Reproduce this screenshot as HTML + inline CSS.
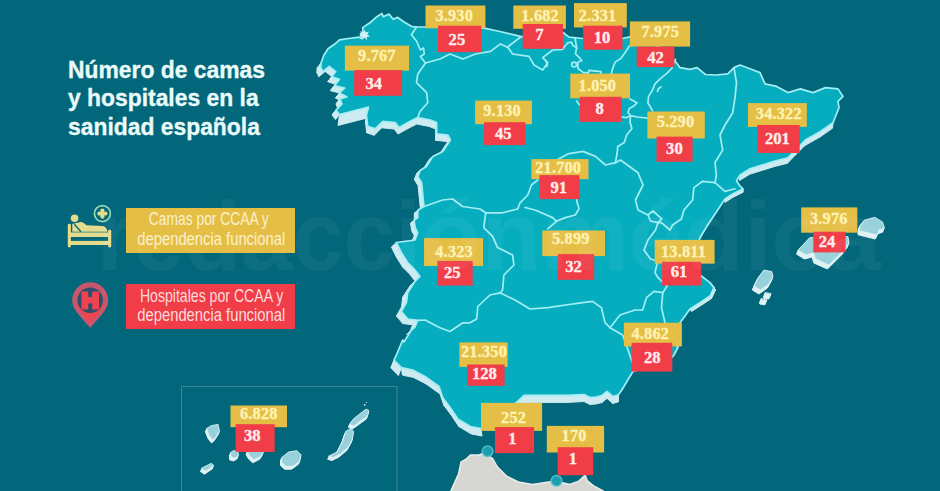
<!DOCTYPE html><html><head><meta charset="utf-8"><style>

html,body{margin:0;padding:0}
body{width:940px;height:491px;overflow:hidden;position:relative;background:#02677b;font-family:"Liberation Sans",sans-serif}
.y,.r{position:absolute;box-sizing:border-box;font-family:"Liberation Serif",serif;font-weight:bold;text-align:center;white-space:nowrap}
.y{background:#e5be46;color:#fdf4b5}
.r{background:#f03d48;color:#fff0f0}
.y span,.r span{position:absolute;left:0;right:0;display:block}
#title{position:absolute;left:67.9px;top:56.1px;transform:scaleX(0.922);color:#eafbfa;-webkit-text-stroke:0.35px #eafbfa;font-weight:bold;font-size:24.8px;line-height:28.3px;white-space:nowrap;transform-origin:0 0}
.leg{position:absolute;left:126px;width:168.5px;color:#fbf1cf;font-size:17.5px;line-height:19.3px;text-align:center;white-space:nowrap}
.leg div{transform-origin:50% 50%}

</style></head><body>
<svg width="940" height="491" viewBox="0 0 940 491" style="position:absolute;left:0;top:0">
<rect width="940" height="491" fill="#02677b"/>
<polygon points="450.4,492 458.6,473.9 461,462.2 466.8,458.6 470.4,455.1 478.5,455.1 484.4,452.8 492.6,458.6 497.3,466.8 506.7,476.2 518.4,482 532.4,484.4 548.8,482 557,481.5 569.9,484.4 579.3,480.9 585.1,475 587.4,480.9 593.3,485.6 605,492" fill="#d6d6d3" stroke="#ececea" stroke-width="1.5" stroke-linejoin="round"/>
<g fill="#cdebf1" stroke="#cdebf1" stroke-width="1" stroke-linejoin="round">
<polygon points="833.0,122.7 820.5,131.5 820.0,137.0 832.5,128.2"/>
<polygon points="820.5,131.5 805.4,140.0 804.9,145.5 820.0,137.0"/>
<polygon points="805.4,140.0 795.4,150.0 794.9,155.5 804.9,145.5"/>
<polygon points="795.4,150.0 787.9,157.8 787.4,163.3 794.9,155.5"/>
<polygon points="787.9,157.8 775.0,161.0 774.5,166.5 787.4,163.3"/>
<polygon points="775.0,161.0 750.0,168.8 749.5,174.3 774.5,166.5"/>
<polygon points="750.0,168.8 740.0,175.0 739.5,180.5 749.5,174.3"/>
<polygon points="736.5,181.0 740.0,186.0 740.0,189.5 736.5,184.5"/>
<polygon points="740.0,186.0 743.0,188.8 743.0,192.3 740.0,189.5"/>
<polygon points="743.0,188.8 732.7,193.9 732.7,197.4 743.0,192.3"/>
<polygon points="732.7,193.9 725.0,198.9 725.0,202.4 732.7,197.4"/>
<polygon points="700.0,275.0 710.0,282.6 711.5,285.1 701.5,277.5"/>
<polygon points="710.0,282.6 714.0,287.6 715.5,290.1 711.5,285.1"/>
<polygon points="714.0,287.6 710.0,296.0 711.5,298.5 715.5,290.1"/>
<polygon points="710.0,296.0 700.0,302.6 701.5,305.1 711.5,298.5"/>
<polygon points="700.0,302.6 690.0,309.0 691.5,311.5 701.5,305.1"/>
<polygon points="618.5,394.8 612.8,396.5 612.8,403.5 618.5,401.8"/>
<polygon points="612.8,396.5 607.0,391.3 607.0,398.3 612.8,403.5"/>
<polygon points="607.0,391.3 602.0,395.5 602.0,402.5 607.0,398.3"/>
<polygon points="602.0,395.5 595.8,397.0 595.8,404.0 602.0,402.5"/>
<polygon points="595.8,397.0 590.0,397.4 590.0,404.4 595.8,404.0"/>
<polygon points="590.0,397.4 584.0,394.5 584.0,401.5 590.0,404.4"/>
<polygon points="584.0,394.5 567.0,395.4 567.0,402.4 584.0,401.5"/>
<polygon points="567.0,395.4 524.0,395.4 524.0,402.4 567.0,402.4"/>
<polygon points="524.0,395.4 517.0,402.0 517.0,409.0 524.0,402.4"/>
<polygon points="481.0,428.5 470.3,426.5 471.3,434.0 482.0,436.0"/>
<polygon points="470.3,426.5 457.8,419.0 458.8,426.5 471.3,434.0"/>
<polygon points="457.8,419.0 450.3,407.7 451.3,415.2 458.8,426.5"/>
<polygon points="450.3,407.7 442.8,397.7 443.8,405.2 451.3,415.2"/>
<polygon points="442.8,397.7 439.0,386.4 440.0,393.9 443.8,405.2"/>
<polygon points="439.0,386.4 425.0,376.4 426.0,383.9 440.0,393.9"/>
<polygon points="425.0,376.4 412.7,370.0 413.7,377.5 426.0,383.9"/>
<polygon points="412.7,370.0 401.4,367.6 402.4,375.1 413.7,377.5"/>
<polygon points="401.4,367.6 394.0,360.0 391.0,368.0 398.4,375.6"/>
<polygon points="394.0,360.0 396.4,355.0 393.4,363.0 391.0,368.0"/>
<polygon points="396.4,355.0 402.7,340.0 399.7,348.0 393.4,363.0"/>
<polygon points="411.4,330.0 415.0,327.0 410.0,331.5 406.4,334.5"/>
<polygon points="415.0,327.0 417.7,320.3 412.7,324.8 410.0,331.5"/>
<polygon points="417.7,320.3 407.7,319.0 402.7,323.5 412.7,324.8"/>
<polygon points="407.7,319.0 401.4,311.5 396.4,316.0 402.7,323.5"/>
<polygon points="401.4,311.5 406.4,302.7 401.4,307.2 396.4,316.0"/>
<polygon points="406.4,302.7 407.7,292.7 402.7,297.2 401.4,307.2"/>
<polygon points="407.7,292.7 415.0,281.4 410.0,285.9 402.7,297.2"/>
<polygon points="415.0,281.4 420.0,276.4 415.0,280.9 410.0,285.9"/>
<polygon points="420.0,276.4 415.0,270.0 410.0,274.5 415.0,280.9"/>
<polygon points="415.0,270.0 407.7,262.6 402.7,267.1 410.0,274.5"/>
<polygon points="407.7,262.6 401.4,252.6 396.4,257.1 402.7,267.1"/>
<polygon points="401.4,252.6 396.4,242.5 391.4,247.0 396.4,257.1"/>
<polygon points="415.0,240.0 417.8,232.8 414.3,235.8 411.5,243.0"/>
<polygon points="417.8,232.8 415.3,227.8 411.8,230.8 414.3,235.8"/>
<polygon points="415.3,227.8 414.0,220.3 410.5,223.3 411.8,230.8"/>
<polygon points="414.0,220.3 417.8,217.8 414.3,220.8 410.5,223.3"/>
<polygon points="417.8,217.8 417.8,210.3 414.3,213.3 414.3,220.8"/>
<polygon points="417.8,210.3 424.0,206.5 420.5,209.5 414.3,213.3"/>
<polygon points="424.0,206.5 422.8,195.2 419.3,198.2 420.5,209.5"/>
<polygon points="422.8,195.2 421.6,182.7 418.1,185.7 419.3,198.2"/>
<polygon points="421.6,182.7 417.8,176.4 414.3,179.4 418.1,185.7"/>
<polygon points="417.8,176.4 420.3,170.2 416.8,173.2 414.3,179.4"/>
<polygon points="420.3,170.2 426.6,166.4 423.1,169.4 416.8,173.2"/>
<polygon points="426.6,166.4 432.8,156.4 429.3,159.4 423.1,169.4"/>
<polygon points="432.8,156.4 442.9,151.4 439.4,154.4 429.3,159.4"/>
<polygon points="442.9,151.4 450.4,140.0 446.9,143.0 439.4,154.4"/>
<polygon points="450.4,140.0 447.9,135.0 446.9,141.5 449.4,146.5"/>
<polygon points="447.9,135.0 436.6,133.8 435.6,140.3 446.9,141.5"/>
<polygon points="436.6,133.8 436.6,122.5 435.6,129.0 435.6,140.3"/>
<polygon points="436.6,122.5 430.3,120.0 429.3,126.5 435.6,129.0"/>
<polygon points="430.3,120.0 417.8,117.5 416.8,124.0 429.3,126.5"/>
<polygon points="417.8,117.5 410.3,121.3 409.3,127.8 416.8,124.0"/>
<polygon points="410.3,121.3 399.0,127.5 398.0,134.0 409.3,127.8"/>
<polygon points="399.0,127.5 395.2,122.5 394.2,129.0 398.0,134.0"/>
<polygon points="395.2,122.5 382.7,121.3 381.7,127.8 394.2,129.0"/>
<polygon points="382.7,121.3 375.2,128.8 374.2,135.3 381.7,127.8"/>
<polygon points="375.2,128.8 367.7,126.3 366.7,132.8 374.2,135.3"/>
<polygon points="367.7,126.3 366.4,115.0 365.4,121.5 366.7,132.8"/>
<polygon points="368.5,107.0 339.5,114.5 338.0,125.5 367.0,118.0"/>
<polygon points="339.5,114.5 336.0,110.0 332.0,115.0 335.5,119.5"/>
<polygon points="336.0,110.0 342.0,104.0 338.0,109.0 332.0,115.0"/>
<polygon points="342.0,104.0 340.0,99.0 336.0,104.0 338.0,109.0"/>
<polygon points="340.0,99.0 347.0,97.0 343.0,102.0 336.0,104.0"/>
<polygon points="347.0,97.0 339.5,93.0 335.5,98.0 343.0,102.0"/>
<polygon points="339.5,93.0 344.7,88.2 340.7,93.2 335.5,98.0"/>
<polygon points="344.7,88.2 334.4,85.7 330.4,90.7 340.7,93.2"/>
<polygon points="334.4,85.7 339.5,79.3 335.5,84.3 330.4,90.7"/>
<polygon points="339.5,79.3 331.8,76.7 327.8,81.7 335.5,84.3"/>
<polygon points="331.8,76.7 335.7,71.6 331.7,76.6 327.8,81.7"/>
<polygon points="335.7,71.6 329.3,66.4 325.3,71.4 331.7,76.6"/>
<polygon points="329.3,66.4 322.8,71.6 318.8,76.6 325.3,71.4"/>
<polygon points="322.8,71.6 320.9,67.7 316.9,72.7 318.8,76.6"/>
<polygon points="320.9,67.7 321.0,63.0 317.0,68.0 316.9,72.7"/>
</g>
<polygon points="321.0,63.0 324.0,55.0 328.0,48.8 334.4,44.3 339.5,39.8 348.5,38.5 358.8,37.2 361.5,38.5 360.5,33.5 363.5,35.0 362.6,27.6 370.3,22.5 376.8,16.7 381.9,13.5 383.2,16.7 389.0,14.1 393.4,19.3 397.3,17.3 403.7,21.8 411.4,26.3 416.5,27.0 425.5,27.0 455.0,25.5 485.4,28.3 500.0,31.5 522.7,36.8 540.0,35.0 563.0,32.5 569.0,37.2 583.0,38.5 605.0,40.0 622.5,38.5 630.0,36.8 650.0,42.0 665.0,50.0 674.4,60.0 679.9,67.6 690.1,69.3 697.0,67.6 705.5,74.5 716.0,75.0 727.7,73.8 734.0,67.6 740.0,65.0 750.0,68.8 760.0,72.6 765.0,83.9 776.6,86.4 787.9,92.6 800.4,88.9 813.0,92.6 825.5,87.6 838.0,88.9 843.0,96.4 838.0,101.4 839.0,107.7 833.0,122.7 820.5,131.5 805.4,140.0 795.4,150.0 787.9,157.8 775.0,161.0 750.0,168.8 740.0,175.0 736.5,181.0 740.0,186.0 743.0,188.8 732.7,193.9 725.0,198.9 717.7,210.0 707.7,225.0 700.0,237.7 696.0,250.0 695.0,262.0 700.0,275.0 710.0,282.6 714.0,287.6 710.0,296.0 700.0,302.6 690.0,309.0 685.0,316.0 680.0,322.7 678.0,335.0 677.8,347.7 674.0,355.0 671.5,358.0 655.0,363.0 640.0,367.0 632.7,372.0 628.4,379.0 622.6,388.7 618.5,394.8 612.8,396.5 607.0,391.3 602.0,395.5 595.8,397.0 590.0,397.4 584.0,394.5 567.0,395.4 524.0,395.4 517.0,402.0 510.0,408.0 500.0,416.0 488.0,424.0 481.0,428.5 470.3,426.5 457.8,419.0 450.3,407.7 442.8,397.7 439.0,386.4 425.0,376.4 412.7,370.0 401.4,367.6 394.0,360.0 396.4,355.0 402.7,340.0 404.0,342.0 411.4,330.0 415.0,327.0 417.7,320.3 407.7,319.0 401.4,311.5 406.4,302.7 407.7,292.7 415.0,281.4 420.0,276.4 415.0,270.0 407.7,262.6 401.4,252.6 396.4,242.5 415.0,240.0 417.8,232.8 415.3,227.8 414.0,220.3 417.8,217.8 417.8,210.3 424.0,206.5 422.8,195.2 421.6,182.7 417.8,176.4 420.3,170.2 426.6,166.4 432.8,156.4 442.9,151.4 450.4,140.0 447.9,135.0 436.6,133.8 436.6,122.5 430.3,120.0 417.8,117.5 410.3,121.3 399.0,127.5 395.2,122.5 382.7,121.3 375.2,128.8 367.7,126.3 366.4,115.0 368.5,107.0 339.5,114.5 336.0,110.0 342.0,104.0 340.0,99.0 347.0,97.0 339.5,93.0 344.7,88.2 334.4,85.7 339.5,79.3 331.8,76.7 335.7,71.6 329.3,66.4 322.8,71.6 320.9,67.7" fill="#06adbe" stroke="#a3eef5" stroke-width="1.7" stroke-linejoin="round"/>
<g fill="none" stroke="#a3eef5" stroke-width="1.7" stroke-linejoin="round" stroke-linecap="round">
<polyline points="416.5,27.0 411.4,34.7 416.5,41.0 420.4,50.0 423.6,48.0 424.2,54.0 420.4,56.5 425.5,63.0"/>
<polyline points="425.5,63.0 417.8,74.0 416.5,82.7 426.6,92.7 427.8,102.8 420.0,111.5 417.8,117.5"/>
<polyline points="425.5,63.0 440.0,59.0 450.0,54.0 463.0,59.0 475.4,54.0 490.5,51.4 500.5,43.9 508.0,47.6"/>
<polyline points="507.3,47.1 521.0,36.8"/>
<polyline points="508.0,47.6 512.6,54.0 529.0,56.4 534.0,65.0 542.7,70.0 547.7,62.7 542.7,57.6 552.7,50.0 562.6,49.3 567.7,42.8 571.6,42.2 572.8,45.4 576.7,48.0"/>
<polyline points="575.0,38.0 576.7,48.0 575.4,53.7 579.3,57.6 581.8,60.8 578.0,62.0 578.0,68.5 583.1,72.4 588.2,73.0 588.9,70.4 601.1,71.7 601.1,75.0"/>
<polyline points="629.3,46.0 624.8,53.1 621.0,58.2 615.2,62.1 612.6,68.5 611.3,74.0"/>
<polyline points="675.5,59.5 671.7,68.5 666.5,73.6 660.1,78.8 655.0,83.9 652.4,90.3 648.6,96.4 647.9,102.8 652.4,110.5"/>
<polyline points="630.0,99.0 637.0,102.8 633.8,106.0 629.3,108.6 628.0,112.5 630.6,115.7 637.0,117.0 647.3,118.2"/>
<polyline points="621.6,117.0 626.7,117.6 630.6,115.7 630.0,122.0 631.9,128.5 626.7,135.0 624.2,142.6 617.8,146.5 617.1,153.0 615.5,162.7"/>
<polyline points="576.7,101.0 579.3,104.8"/>
<polyline points="657.5,91.5 658.5,88.5 661.0,87.0"/>
<polyline points="546.0,61.5 547.5,64.5 546.5,66.5"/>
<polyline points="615.5,162.7 605.5,165.0 595.4,156.4 583.0,151.4 567.9,153.9 555.0,161.0"/>
<polyline points="537.8,180.0 531.5,185.0 527.8,195.0 520.0,202.8 517.7,209.0 502.7,212.8 485.7,212.8"/>
<polyline points="485.7,212.8 480.0,209.0 462.6,206.5 452.6,199.0 442.6,200.0 424.0,206.5"/>
<polyline points="485.7,212.8 483.8,227.6 492.6,236.4 497.6,247.6 512.6,255.0 513.9,265.0 503.9,275.0 502.6,290.0 500.0,292.8"/>
<polyline points="500.0,292.8 490.0,295.0 477.8,306.5 476.6,319.0 470.0,322.8 462.8,322.8 450.0,331.5 440.0,327.8 425.0,320.0 417.7,320.3"/>
<polyline points="500.0,292.8 515.0,300.0 530.0,309.0 548.0,307.7 565.6,305.0 582.6,302.6 592.6,301.4 601.4,307.6 605.0,322.7 610.0,327.7"/>
<polyline points="610.0,327.7 622.7,335.0 629.0,352.8 631.4,360.0 636.0,371.0"/>
<polyline points="610.0,327.7 620.0,315.0 635.0,310.0 642.7,310.0 646.5,297.6 654.0,291.4 662.8,292.6"/>
<polyline points="662.8,292.6 661.5,307.6 665.0,322.7 672.0,335.0 677.8,347.7"/>
<polyline points="662.8,292.6 667.8,285.0 665.5,285.0 658.0,277.7 655.0,272.6 657.7,261.0 650.5,259.0 644.0,250.0 648.0,240.0 655.5,230.0 658.0,222.6"/>
<polyline points="648.0,215.0 653.0,211.0 661.8,218.8 658.0,222.6 650.5,221.0 648.0,215.0"/>
<polyline points="615.5,162.7 620.5,160.0 638.0,172.7 643.0,185.0 635.5,200.0 638.0,210.0 648.0,215.0"/>
<polyline points="658.0,222.6 661.3,222.7 670.0,230.0 672.6,225.0 681.4,219.0 683.9,210.0 692.6,200.0 693.9,187.6 702.6,181.3 715.0,182.6"/>
<polyline points="715.0,182.6 725.0,191.4 735.0,188.8"/>
<polyline points="734.0,67.6 736.5,82.6 735.0,97.6 732.7,112.7 725.0,125.0 720.0,135.0 722.7,150.0 715.0,162.5 716.4,175.0 715.0,182.6"/>
<polyline points="525.0,207.5 535.0,210.0 552.7,217.6 556.5,221.3 565.3,217.6 575.3,215.0 579.0,208.8 576.5,200.0 578.0,185.0"/>
<polyline points="556.5,221.3 547.7,228.8"/>
<circle cx="574.1" cy="64.6" r="2.4"/>
</g>
<polygon points="364.5,29.5 365.8,32.5 369,31.5 367.3,34.3 370,36.5 366.8,36.8 367,40 364.6,37.6 362,39.8 362.2,36.6 359,36 361.8,34 360.2,31 363.3,32.2" fill="#d6f1f5"/>
<g fill="#e0f2f6" stroke="#e0f2f6" stroke-width="1" stroke-linejoin="round"><polygon points="801.0,247.0 809.8,237.5 848.0,236.5 849.0,243.0 844.0,250.0 829.0,265.0 815.5,259.0 813.6,253.0 806.0,255.0 798.0,250.0" transform="translate(-0.4,1)"/><polygon points="801.0,247.0 809.8,237.5 848.0,236.5 849.0,243.0 844.0,250.0 829.0,265.0 815.5,259.0 813.6,253.0 806.0,255.0 798.0,250.0" transform="translate(-0.8,2)"/><polygon points="801.0,247.0 809.8,237.5 848.0,236.5 849.0,243.0 844.0,250.0 829.0,265.0 815.5,259.0 813.6,253.0 806.0,255.0 798.0,250.0" transform="translate(-1.2,3)"/><polygon points="801.0,247.0 809.8,237.5 848.0,236.5 849.0,243.0 844.0,250.0 829.0,265.0 815.5,259.0 813.6,253.0 806.0,255.0 798.0,250.0" transform="translate(-1.6,4)"/></g><polygon points="801.0,247.0 809.8,237.5 848.0,236.5 849.0,243.0 844.0,250.0 829.0,265.0 815.5,259.0 813.6,253.0 806.0,255.0 798.0,250.0" fill="#97d1db" stroke="#e0f2f6" stroke-width="0.8" stroke-linejoin="round"/><g fill="#e0f2f6" stroke="#e0f2f6" stroke-width="1" stroke-linejoin="round"><polygon points="859.6,226.0 864.4,220.0 875.0,217.3 882.6,222.0 884.5,228.0 878.8,230.0 876.9,235.0 867.0,232.6 859.6,230.7" transform="translate(-0.4,1)"/><polygon points="859.6,226.0 864.4,220.0 875.0,217.3 882.6,222.0 884.5,228.0 878.8,230.0 876.9,235.0 867.0,232.6 859.6,230.7" transform="translate(-0.8,2)"/><polygon points="859.6,226.0 864.4,220.0 875.0,217.3 882.6,222.0 884.5,228.0 878.8,230.0 876.9,235.0 867.0,232.6 859.6,230.7" transform="translate(-1.2,3)"/><polygon points="859.6,226.0 864.4,220.0 875.0,217.3 882.6,222.0 884.5,228.0 878.8,230.0 876.9,235.0 867.0,232.6 859.6,230.7" transform="translate(-1.6,4)"/></g><polygon points="859.6,226.0 864.4,220.0 875.0,217.3 882.6,222.0 884.5,228.0 878.8,230.0 876.9,235.0 867.0,232.6 859.6,230.7" fill="#97d1db" stroke="#e0f2f6" stroke-width="0.8" stroke-linejoin="round"/><g fill="#e0f2f6" stroke="#e0f2f6" stroke-width="1" stroke-linejoin="round"><polygon points="754.0,286.0 758.0,277.8 764.0,270.0 771.8,271.6 773.0,276.6 769.0,284.0 760.5,290.0" transform="translate(-0.4,1)"/><polygon points="754.0,286.0 758.0,277.8 764.0,270.0 771.8,271.6 773.0,276.6 769.0,284.0 760.5,290.0" transform="translate(-0.8,2)"/><polygon points="754.0,286.0 758.0,277.8 764.0,270.0 771.8,271.6 773.0,276.6 769.0,284.0 760.5,290.0" transform="translate(-1.2,3)"/><polygon points="754.0,286.0 758.0,277.8 764.0,270.0 771.8,271.6 773.0,276.6 769.0,284.0 760.5,290.0" transform="translate(-1.6,4)"/></g><polygon points="754.0,286.0 758.0,277.8 764.0,270.0 771.8,271.6 773.0,276.6 769.0,284.0 760.5,290.0" fill="#97d1db" stroke="#e0f2f6" stroke-width="0.8" stroke-linejoin="round"/><g fill="#e0f2f6" stroke="#e0f2f6" stroke-width="1" stroke-linejoin="round"><polygon points="765.0,292.5 771.0,293.5 770.5,295.0 765.5,294.3" transform="translate(-0.4,1)"/><polygon points="765.0,292.5 771.0,293.5 770.5,295.0 765.5,294.3" transform="translate(-0.8,2)"/><polygon points="765.0,292.5 771.0,293.5 770.5,295.0 765.5,294.3" transform="translate(-1.2,3)"/><polygon points="765.0,292.5 771.0,293.5 770.5,295.0 765.5,294.3" transform="translate(-1.6,4)"/></g><polygon points="765.0,292.5 771.0,293.5 770.5,295.0 765.5,294.3" fill="#97d1db" stroke="#e0f2f6" stroke-width="0.8" stroke-linejoin="round"/><g fill="#e0f2f6" stroke="#e0f2f6" stroke-width="1" stroke-linejoin="round"><polygon points="761.0,298.5 767.0,299.3 766.5,300.8 761.5,300.0" transform="translate(-0.4,1)"/><polygon points="761.0,298.5 767.0,299.3 766.5,300.8 761.5,300.0" transform="translate(-0.8,2)"/><polygon points="761.0,298.5 767.0,299.3 766.5,300.8 761.5,300.0" transform="translate(-1.2,3)"/><polygon points="761.0,298.5 767.0,299.3 766.5,300.8 761.5,300.0" transform="translate(-1.6,4)"/></g><polygon points="761.0,298.5 767.0,299.3 766.5,300.8 761.5,300.0" fill="#97d1db" stroke="#e0f2f6" stroke-width="0.8" stroke-linejoin="round"/><g fill="#e0f2f6" stroke="#e0f2f6" stroke-width="1" stroke-linejoin="round"><polygon points="206.5,428.5 211.2,425.7 218.1,424.3 219.5,431.2 215.3,437.7 212.6,439.9 209.2,435.4" transform="translate(-0.4,1)"/><polygon points="206.5,428.5 211.2,425.7 218.1,424.3 219.5,431.2 215.3,437.7 212.6,439.9 209.2,435.4" transform="translate(-0.8,2)"/><polygon points="206.5,428.5 211.2,425.7 218.1,424.3 219.5,431.2 215.3,437.7 212.6,439.9 209.2,435.4" transform="translate(-1.2,3)"/></g><polygon points="206.5,428.5 211.2,425.7 218.1,424.3 219.5,431.2 215.3,437.7 212.6,439.9 209.2,435.4" fill="#97d1db" stroke="#e0f2f6" stroke-width="0.8" stroke-linejoin="round"/><g fill="#e0f2f6" stroke="#e0f2f6" stroke-width="1" stroke-linejoin="round"><polygon points="230.5,452.5 234.0,450.5 238.0,452.0 238.5,455.5 235.0,458.0 231.0,457.0" transform="translate(-0.4,1)"/><polygon points="230.5,452.5 234.0,450.5 238.0,452.0 238.5,455.5 235.0,458.0 231.0,457.0" transform="translate(-0.8,2)"/><polygon points="230.5,452.5 234.0,450.5 238.0,452.0 238.5,455.5 235.0,458.0 231.0,457.0" transform="translate(-1.2,3)"/></g><polygon points="230.5,452.5 234.0,450.5 238.0,452.0 238.5,455.5 235.0,458.0 231.0,457.0" fill="#97d1db" stroke="#e0f2f6" stroke-width="0.8" stroke-linejoin="round"/><g fill="#e0f2f6" stroke="#e0f2f6" stroke-width="1" stroke-linejoin="round"><polygon points="201.5,468.3 211.2,463.3 213.9,465.5 205.6,471.2" transform="translate(-0.4,1)"/><polygon points="201.5,468.3 211.2,463.3 213.9,465.5 205.6,471.2" transform="translate(-0.8,2)"/><polygon points="201.5,468.3 211.2,463.3 213.9,465.5 205.6,471.2" transform="translate(-1.2,3)"/></g><polygon points="201.5,468.3 211.2,463.3 213.9,465.5 205.6,471.2" fill="#97d1db" stroke="#e0f2f6" stroke-width="0.8" stroke-linejoin="round"/><g fill="#e0f2f6" stroke="#e0f2f6" stroke-width="1" stroke-linejoin="round"><polygon points="247.1,451.4 263.7,451.4 261.0,456.1 254.0,459.8 249.9,456.1" transform="translate(-0.4,1)"/><polygon points="247.1,451.4 263.7,451.4 261.0,456.1 254.0,459.8 249.9,456.1" transform="translate(-0.8,2)"/><polygon points="247.1,451.4 263.7,451.4 261.0,456.1 254.0,459.8 249.9,456.1" transform="translate(-1.2,3)"/></g><polygon points="247.1,451.4 263.7,451.4 261.0,456.1 254.0,459.8 249.9,456.1" fill="#97d1db" stroke="#e0f2f6" stroke-width="0.8" stroke-linejoin="round"/><g fill="#e0f2f6" stroke="#e0f2f6" stroke-width="1" stroke-linejoin="round"><polygon points="281.7,457.5 288.6,452.0 296.9,450.6 301.1,454.8 299.7,461.2 292.8,466.2 285.9,466.2 281.7,462.5" transform="translate(-0.4,1)"/><polygon points="281.7,457.5 288.6,452.0 296.9,450.6 301.1,454.8 299.7,461.2 292.8,466.2 285.9,466.2 281.7,462.5" transform="translate(-0.8,2)"/><polygon points="281.7,457.5 288.6,452.0 296.9,450.6 301.1,454.8 299.7,461.2 292.8,466.2 285.9,466.2 281.7,462.5" transform="translate(-1.2,3)"/></g><polygon points="281.7,457.5 288.6,452.0 296.9,450.6 301.1,454.8 299.7,461.2 292.8,466.2 285.9,466.2 281.7,462.5" fill="#97d1db" stroke="#e0f2f6" stroke-width="0.8" stroke-linejoin="round"/><g fill="#e0f2f6" stroke="#e0f2f6" stroke-width="1" stroke-linejoin="round"><polygon points="328.7,456.1 337.0,452.0 342.6,440.9 345.9,431.2 350.9,428.5 353.6,431.2 352.3,439.5 348.1,447.3 339.8,454.3 332.9,457.6" transform="translate(-0.4,1)"/><polygon points="328.7,456.1 337.0,452.0 342.6,440.9 345.9,431.2 350.9,428.5 353.6,431.2 352.3,439.5 348.1,447.3 339.8,454.3 332.9,457.6" transform="translate(-0.8,2)"/><polygon points="328.7,456.1 337.0,452.0 342.6,440.9 345.9,431.2 350.9,428.5 353.6,431.2 352.3,439.5 348.1,447.3 339.8,454.3 332.9,457.6" transform="translate(-1.2,3)"/></g><polygon points="328.7,456.1 337.0,452.0 342.6,440.9 345.9,431.2 350.9,428.5 353.6,431.2 352.3,439.5 348.1,447.3 339.8,454.3 332.9,457.6" fill="#97d1db" stroke="#e0f2f6" stroke-width="0.8" stroke-linejoin="round"/><g fill="#e0f2f6" stroke="#e0f2f6" stroke-width="1" stroke-linejoin="round"><polygon points="349.5,424.3 353.6,418.8 360.5,413.3 366.1,409.1 368.9,410.5 367.5,416.0 360.5,421.1 353.6,426.0" transform="translate(-0.4,1)"/><polygon points="349.5,424.3 353.6,418.8 360.5,413.3 366.1,409.1 368.9,410.5 367.5,416.0 360.5,421.1 353.6,426.0" transform="translate(-0.8,2)"/><polygon points="349.5,424.3 353.6,418.8 360.5,413.3 366.1,409.1 368.9,410.5 367.5,416.0 360.5,421.1 353.6,426.0" transform="translate(-1.2,3)"/></g><polygon points="349.5,424.3 353.6,418.8 360.5,413.3 366.1,409.1 368.9,410.5 367.5,416.0 360.5,421.1 353.6,426.0" fill="#97d1db" stroke="#e0f2f6" stroke-width="0.8" stroke-linejoin="round"/><circle cx="364.7" cy="404.8" r="0.9" fill="#e0f2f6"/><circle cx="366.5" cy="402.5" r="0.6" fill="#e0f2f6"/>
<circle cx="487.6" cy="451.2" r="5.3" fill="#1b9fb0" stroke="#56bfcc" stroke-width="1.4"/>
<circle cx="556.5" cy="480.8" r="5.3" fill="#1b9fb0" stroke="#56bfcc" stroke-width="1.4"/>
<path d="M181.5 492 V386.5 H397 V492" fill="none" stroke="#3f8797" stroke-width="1"/>

<g fill="#e4dc8c">
<rect x="67.8" y="223.7" width="3.1" height="23.8" rx="1.4"/>
<rect x="108.1" y="229.8" width="3.1" height="17.7" rx="1.4"/>
<rect x="70" y="232.4" width="39" height="4.6"/>
<rect x="70" y="240.9" width="39" height="4.1"/>
<circle cx="74.6" cy="218.2" r="3.8"/>
<path d="M72.3 224 L80.5 221.9 Q83 221.6 86.5 225.3 L102.5 226 Q106.5 226.5 107.6 231.7 L72.3 231.7 Z"/>
</g>
<path d="M74.3 224.2 L81 231.7" stroke="#02677b" stroke-width="1.3" fill="none"/>
<circle cx="102.4" cy="213.6" r="8" fill="none" stroke="#97d8b4" stroke-width="1.7"/>
<g fill="#e2dd8c"><circle cx="102.4" cy="210.6" r="2.1"/><circle cx="102.4" cy="216.6" r="2.1"/><circle cx="99.4" cy="213.6" r="2.1"/><circle cx="105.4" cy="213.6" r="2.1"/><rect x="100.4" y="211.6" width="4" height="4"/></g>
<path d="M90.2 327.8 C82 317.5 72.2 310.5 72.2 300.2 A18 18 0 1 1 108.2 300.2 C108.2 310.5 98.4 317.5 90.2 327.8 Z" fill="#c6576c"/>
<path d="M76.4 303 C78 310.5 84.5 316 90.2 323 C95.9 316 102.4 310.5 104 303 Z" fill="#ee4350"/>
<circle cx="90.2" cy="300.2" r="12.7" fill="#2b4f6d"/>
<path d="M82 292 h5.6 v5.6 h5.2 v-5.6 h5.6 v16.8 h-5.6 v-5.8 h-5.2 v5.8 h-5.6 Z" fill="#ee4350" stroke="#ee4350" stroke-width="1.2" stroke-linejoin="round"/>

<g font-family="Liberation Serif, serif" font-weight="bold" text-anchor="middle">
<rect x="344.9" y="45.6" width="64.1" height="25.0" fill="#e5be46"/>
<text x="376.9" y="60.7" font-size="16.3" letter-spacing="0.2" fill="#fdf3b4" stroke="#fdf3b4" stroke-width="0.35">9.767</text>
<rect x="425.5" y="5.5" width="59.9" height="22.8" fill="#e5be46"/>
<text x="454.2" y="21.4" font-size="16.3" letter-spacing="0.2" fill="#fdf3b4" stroke="#fdf3b4" stroke-width="0.35">3.930</text>
<rect x="513.3" y="5.5" width="52.6" height="23.3" fill="#e5be46"/>
<text x="540.1" y="20.5" font-size="16.3" letter-spacing="0.2" fill="#fdf3b4" stroke="#fdf3b4" stroke-width="0.35">1.682</text>
<rect x="574.0" y="3.1" width="52.8" height="24.3" fill="#e5be46"/>
<text x="597.6" y="20.5" font-size="16.3" letter-spacing="0.2" fill="#fdf3b4" stroke="#fdf3b4" stroke-width="0.35">2.331</text>
<rect x="629.9" y="21.4" width="60.2" height="25.2" fill="#e5be46"/>
<text x="660.3" y="36.8" font-size="16.3" letter-spacing="0.2" fill="#fdf3b4" stroke="#fdf3b4" stroke-width="0.35">7.975</text>
<rect x="570.3" y="73.6" width="59.7" height="24.7" fill="#e5be46"/>
<text x="597.4" y="90.5" font-size="16.3" letter-spacing="0.2" fill="#fdf3b4" stroke="#fdf3b4" stroke-width="0.35">1.050</text>
<rect x="475.1" y="100.6" width="56.8" height="23.6" fill="#e5be46"/>
<text x="502.1" y="115.7" font-size="16.3" letter-spacing="0.2" fill="#fdf3b4" stroke="#fdf3b4" stroke-width="0.35">9.130</text>
<rect x="647.4" y="111.5" width="57.4" height="27.0" fill="#e5be46"/>
<text x="675.5" y="127.4" font-size="16.3" letter-spacing="0.2" fill="#fdf3b4" stroke="#fdf3b4" stroke-width="0.35">5.290</text>
<rect x="748.0" y="103.1" width="58.8" height="23.8" fill="#e5be46"/>
<text x="778.8" y="118.7" font-size="16.3" letter-spacing="0.2" fill="#fdf3b4" stroke="#fdf3b4" stroke-width="0.35">34.322</text>
<rect x="531.4" y="159.1" width="57.1" height="20.0" fill="#e5be46"/>
<text x="558.2" y="173.1" font-size="16.3" letter-spacing="0.2" fill="#fdf3b4" stroke="#fdf3b4" stroke-width="0.35">21.700</text>
<rect x="424.0" y="238.1" width="59.0" height="27.9" fill="#e5be46"/>
<text x="454.1" y="257.2" font-size="16.3" letter-spacing="0.2" fill="#fdf3b4" stroke="#fdf3b4" stroke-width="0.35">4.323</text>
<rect x="542.3" y="230.5" width="62.7" height="25.6" fill="#e5be46"/>
<text x="570.8" y="244.4" font-size="16.3" letter-spacing="0.2" fill="#fdf3b4" stroke="#fdf3b4" stroke-width="0.35">5.899</text>
<rect x="654.7" y="239.9" width="59.9" height="23.7" fill="#e5be46"/>
<text x="683.5" y="256.7" font-size="16.3" letter-spacing="0.2" fill="#fdf3b4" stroke="#fdf3b4" stroke-width="0.35">13.811</text>
<rect x="801.2" y="207.4" width="56.1" height="25.3" fill="#e5be46"/>
<text x="828.8" y="223.7" font-size="16.3" letter-spacing="0.2" fill="#fdf3b4" stroke="#fdf3b4" stroke-width="0.35">3.976</text>
<rect x="623.9" y="322.7" width="58.0" height="23.7" fill="#e5be46"/>
<text x="650.3" y="338.8" font-size="16.3" letter-spacing="0.2" fill="#fdf3b4" stroke="#fdf3b4" stroke-width="0.35">4.862</text>
<rect x="459.4" y="342.4" width="48.2" height="24.5" fill="#e5be46"/>
<text x="484.0" y="357.3" font-size="16.3" letter-spacing="0.2" fill="#fdf3b4" stroke="#fdf3b4" stroke-width="0.35">21.350</text>
<rect x="481.0" y="402.9" width="61.1" height="28.0" fill="#e5be46"/>
<text x="513.6" y="422.9" font-size="16.3" letter-spacing="0.2" fill="#fdf3b4" stroke="#fdf3b4" stroke-width="0.35">252</text>
<rect x="546.8" y="425.9" width="57.3" height="26.6" fill="#e5be46"/>
<text x="574.1" y="441.1" font-size="16.3" letter-spacing="0.2" fill="#fdf3b4" stroke="#fdf3b4" stroke-width="0.35">170</text>
<rect x="230.5" y="405.5" width="56.5" height="21.7" fill="#e5be46"/>
<text x="258.8" y="418.7" font-size="16.3" letter-spacing="0.2" fill="#fdf3b4" stroke="#fdf3b4" stroke-width="0.35">6.828</text>
<rect x="354.2" y="70.1" width="47.9" height="25.7" fill="#f03d48"/>
<text x="373.8" y="89.0" font-size="16.6" fill="#ffecec" stroke="#ffecec" stroke-width="0.35">34</text>
<rect x="438.0" y="25.7" width="43.3" height="26.5" fill="#f03d48"/>
<text x="456.9" y="44.6" font-size="16.6" fill="#ffecec" stroke="#ffecec" stroke-width="0.35">25</text>
<rect x="522.7" y="24.0" width="40.3" height="24.8" fill="#f03d48"/>
<text x="539.5" y="40.3" font-size="16.6" fill="#ffecec" stroke="#ffecec" stroke-width="0.35">7</text>
<rect x="583.1" y="25.7" width="39.4" height="24.0" fill="#f03d48"/>
<text x="602.0" y="42.9" font-size="16.6" fill="#ffecec" stroke="#ffecec" stroke-width="0.35">10</text>
<rect x="636.7" y="46.6" width="37.7" height="20.5" fill="#f03d48"/>
<text x="655.5" y="62.6" font-size="16.6" fill="#ffecec" stroke="#ffecec" stroke-width="0.35">42</text>
<rect x="579.9" y="96.8" width="41.7" height="25.1" fill="#f03d48"/>
<text x="599.6" y="114.0" font-size="16.6" fill="#ffecec" stroke="#ffecec" stroke-width="0.35">8</text>
<rect x="484.0" y="122.2" width="41.4" height="22.9" fill="#f03d48"/>
<text x="503.3" y="138.5" font-size="16.6" fill="#ffecec" stroke="#ffecec" stroke-width="0.35">45</text>
<rect x="656.5" y="136.6" width="36.1" height="25.2" fill="#f03d48"/>
<text x="674.4" y="153.6" font-size="16.6" fill="#ffecec" stroke="#ffecec" stroke-width="0.35">30</text>
<rect x="757.1" y="125.0" width="42.6" height="28.0" fill="#f03d48"/>
<text x="777.4" y="143.9" font-size="16.6" fill="#ffecec" stroke="#ffecec" stroke-width="0.35">201</text>
<rect x="539.4" y="175.1" width="39.9" height="24.0" fill="#f03d48"/>
<text x="558.8" y="192.6" font-size="16.6" fill="#ffecec" stroke="#ffecec" stroke-width="0.35">91</text>
<rect x="437.4" y="260.9" width="35.3" height="24.7" fill="#f03d48"/>
<text x="452.3" y="277.5" font-size="16.6" fill="#ffecec" stroke="#ffecec" stroke-width="0.35">25</text>
<rect x="557.7" y="254.1" width="36.5" height="25.7" fill="#f03d48"/>
<text x="573.5" y="271.9" font-size="16.6" fill="#ffecec" stroke="#ffecec" stroke-width="0.35">32</text>
<rect x="662.1" y="261.8" width="39.1" height="23.7" fill="#f03d48"/>
<text x="679.0" y="276.7" font-size="16.6" fill="#ffecec" stroke="#ffecec" stroke-width="0.35">61</text>
<rect x="813.3" y="231.7" width="32.3" height="20.7" fill="#f03d48"/>
<text x="827.0" y="246.8" font-size="16.6" fill="#ffecec" stroke="#ffecec" stroke-width="0.35">24</text>
<rect x="631.6" y="342.8" width="40.7" height="28.8" fill="#f03d48"/>
<text x="652.2" y="362.7" font-size="16.6" fill="#ffecec" stroke="#ffecec" stroke-width="0.35">28</text>
<rect x="467.1" y="364.5" width="37.5" height="21.3" fill="#f03d48"/>
<text x="484.4" y="378.7" font-size="16.6" fill="#ffecec" stroke="#ffecec" stroke-width="0.35">128</text>
<rect x="494.9" y="427.1" width="39.2" height="26.0" fill="#f03d48"/>
<text x="512.3" y="443.6" font-size="16.6" fill="#ffecec" stroke="#ffecec" stroke-width="0.35">1</text>
<rect x="557.7" y="447.2" width="35.5" height="28.0" fill="#f03d48"/>
<text x="573.0" y="464.3" font-size="16.6" fill="#ffecec" stroke="#ffecec" stroke-width="0.35">1</text>
<rect x="235.6" y="424.2" width="39.1" height="27.8" fill="#f03d48"/>
<text x="252.3" y="441.0" font-size="16.6" fill="#ffecec" stroke="#ffecec" stroke-width="0.35">38</text>
</g>
<g font-family="Liberation Sans, sans-serif" font-weight="bold" font-size="98" fill="#ffffff" fill-opacity="0.05"><text x="97" y="270" textLength="324" lengthAdjust="spacingAndGlyphs">redacci</text><text x="421" y="270" textLength="460" lengthAdjust="spacingAndGlyphs">ónmédica</text></g>
</svg>
<div id="title">Número de camas<br>y hospitales en la<br>sanidad española</div>
<div class="leg" style="top:207.7px;height:45.5px;background:#e5be46"><div style="padding-top:2.6px;transform:translateX(-1.5px) scaleX(.79)">Camas por CCAA y</div><div style="transform:translateX(-1.8px) scaleX(.845)">dependencia funcional</div></div>
<div class="leg" style="top:283.7px;height:45.3px;background:#f03d48;color:#fcdcdc"><div style="padding-top:3.1px;transform:translateX(-2.5px) scaleX(.805)">Hospitales por CCAA y</div><div style="transform:translateX(-1.8px) scaleX(.845)">dependencia funcional</div></div>
</body></html>
